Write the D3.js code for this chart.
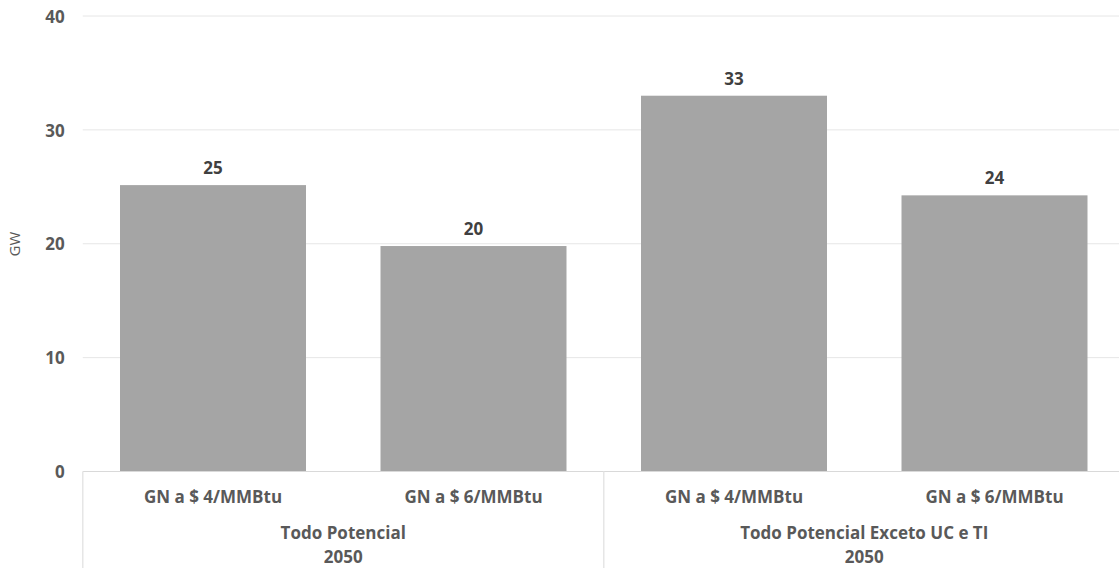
<!DOCTYPE html>
<html>
<head>
<meta charset="utf-8">
<script src="https://cdn.jsdelivr.net/npm/d3@7"></script>
<style>
  html, body { margin: 0; padding: 0; background: #fff; }
  svg { display: block; }
  text { font-family: "Open Sans", "Noto Sans", sans-serif; }
</style>
</head>
<body>
<svg id="chart" width="1119" height="568"></svg>
<script>
const categories = ["GN a $ 4/MMBtu", "GN a $ 6/MMBtu", "GN a $ 4/MMBtu", "GN a $ 6/MMBtu"];
const groups = ["Todo Potencial", "Todo Potencial Exceto UC e TI"];
const groupYear = ["2050", "2050"];
const groupOf = [0, 0, 1, 1];
const values = [25.15, 19.8, 33.0, 24.25];
const valueLabels = ["25", "20", "33", "24"];
const yTicks = [0, 10, 20, 30, 40];
const yTitle = "GW";

const FONT = "'Open Sans', 'Noto Sans', sans-serif";
const svg = d3.select("#chart");
const pLeft = 82.75, pRight = 1124.75, pTop = 16, pBottom = 471.5;

const ids = categories.map((c, i) => i);
const x = d3.scaleBand().domain(ids).range([pLeft, pRight])
  .paddingInner(0.286).paddingOuter(0.143);
const y = d3.scaleLinear().domain([0, 40]).range([pBottom, pTop]);

// gridlines
svg.append("g").selectAll("line").data(yTicks.filter(t => t > 0)).join("line")
  .attr("x1", pLeft).attr("x2", pRight)
  .attr("y1", d => y(d)).attr("y2", d => y(d))
  .attr("stroke", "#e6e6e6").attr("stroke-width", 1);

// y tick labels via axis
const yAxis = d3.axisLeft(y).tickValues(yTicks).tickSize(0).tickPadding(18).tickFormat(d3.format("d"));
const ya = svg.append("g").attr("transform", `translate(${pLeft},0)`).call(yAxis);
ya.select(".domain").remove();
ya.attr("font-family", null).attr("font-size", null);
ya.selectAll("text")
  .attr("font-size", 17).attr("font-weight", "bold").attr("fill", "#595959")
  .attr("dy", "0.36em")
  .style("font-family", FONT);

// bars
svg.append("g").selectAll("rect").data(ids).join("rect")
  .attr("x", i => x(i)).attr("width", x.bandwidth())
  .attr("y", i => y(values[i])).attr("height", i => y(0) - y(values[i]))
  .attr("fill", "#a5a5a5");

// value labels
svg.append("g").selectAll("text").data(ids).join("text")
  .attr("x", i => x(i) + x.bandwidth() / 2)
  .attr("y", i => y(values[i]) - 11)
  .attr("text-anchor", "middle")
  .attr("font-size", 17).attr("font-weight", "bold").attr("fill", "#404040")
  .text(i => valueLabels[i]);

// baseline
svg.append("line").attr("x1", pLeft).attr("x2", pRight)
  .attr("y1", y(0)).attr("y2", y(0))
  .attr("stroke", "#d9d9d9").attr("stroke-width", 1);

// group separators
const step = x.step();
const sepX = [pLeft, pLeft + step * 2, pRight];
svg.append("g").selectAll("line").data(sepX).join("line")
  .attr("x1", d => d).attr("x2", d => d)
  .attr("y1", y(0)).attr("y2", 568)
  .attr("stroke", "#e6e6e6").attr("stroke-width", 1.5);

// category labels
svg.append("g").selectAll("text").data(ids).join("text")
  .attr("x", i => x(i) + x.bandwidth() / 2)
  .attr("y", 503)
  .attr("text-anchor", "middle")
  .attr("font-size", 17).attr("font-weight", "bold").attr("fill", "#595959")
  .text(i => categories[i]);

// group labels
const gIdx = groups.map((g, i) => i);
const gCenter = gi => {
  const members = ids.filter(i => groupOf[i] === gi);
  return (x(members[0]) - (step - x.bandwidth()) / 2 + x(members[members.length - 1]) + x.bandwidth() + (step - x.bandwidth()) / 2) / 2;
};
const gl = svg.append("g");
gl.selectAll("text.g").data(gIdx).join("text").attr("class", "g")
  .attr("x", gCenter).attr("y", 539)
  .attr("text-anchor", "middle")
  .attr("font-size", 17).attr("font-weight", "bold").attr("fill", "#595959")
  .text(gi => groups[gi]);
gl.selectAll("text.yr").data(gIdx).join("text").attr("class", "yr")
  .attr("x", gCenter).attr("y", 562.5)
  .attr("text-anchor", "middle")
  .attr("font-size", 17).attr("font-weight", "bold").attr("fill", "#595959")
  .text(gi => groupYear[gi]);

// y title
svg.append("text")
  .attr("transform", "translate(20,244) rotate(-90)")
  .attr("text-anchor", "middle")
  .attr("font-size", 15).attr("fill", "#595959")
  .text(yTitle);
</script>
</body>
</html>
